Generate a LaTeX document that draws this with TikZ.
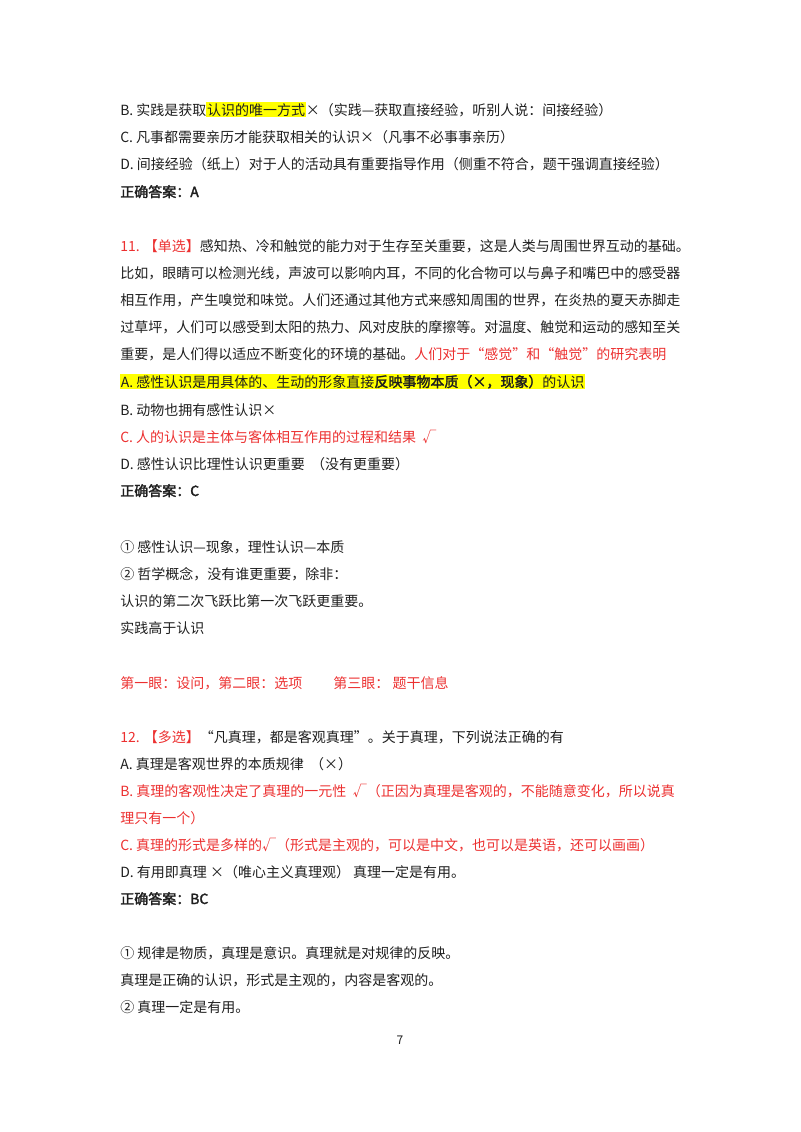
\documentclass[tikz,border=0pt]{standalone}
\usepackage{fontspec}
\setmainfont{Noto Sans CJK SC}[AutoFakeBold=2]
\definecolor{rd}{RGB}{236,48,48}
\definecolor{hly}{RGB}{255,255,0}
\definecolor{tx}{RGB}{30,30,30}
\newcommand\hlt[1]{{\setlength\fboxsep{0.5pt}\colorbox{hly}{#1}}}
\begin{document}
\begin{tikzpicture}[x=0.75pt,y=-0.75pt,
  ln/.style={anchor=base west,inner sep=0pt,font=\fontsize{10.5pt}{12pt}\selectfont,text=tx},
  red/.style={ln,text=rd}]
\useasboundingbox (0,0) rectangle (800,1132);
\node[ln] (l1) at (120,115) {B. 实践是获取\hlt{认识的唯一方式}×（实践—获取直接经验，听别人说：间接经验）};
\node[ln] (l2) at (120,142) {C. 凡事都需要亲历才能获取相关的认识×（凡事不必事事亲历）};
\node[ln] (l3) at (120,169) {D. 间接经验（纸上）对于人的活动具有重要指导作用（侧重不符合，题干强调直接经验）};
\node[ln] (l4) at (120,197) {\textbf{正确答案：A}};
\node[ln] (l5) at (120,251) {\textcolor{rd}{11. 【单选】}感知热、冷和触觉的能力对于生存至关重要，这是人类与周围世界互动的基础。};
\node[ln] (l6) at (120,278) {比如，眼睛可以检测光线，声波可以影响内耳，不同的化合物可以与鼻子和嘴巴中的感受器};
\node[ln] (l7) at (120,305) {相互作用，产生嗅觉和味觉。人们还通过其他方式来感知周围的世界，在炎热的夏天赤脚走};
\node[ln] (l8) at (120,332) {过草坪，人们可以感受到太阳的热力、风对皮肤的摩擦等。对温度、触觉和运动的感知至关};
\node[ln] (l9) at (120,359) {重要，是人们得以适应不断变化的环境的基础。\textcolor{rd}{人们对于“感觉”和“触觉”的研究表明}};
\node[ln] (l10) at (120,387) {\hlt{A. 感性认识是用具体的、生动的形象直接\textbf{反映事物本质（×，现象）}的认识}};
\node[ln] (l11) at (120,415) {B. 动物也拥有感性认识×};
\node[red] (l12) at (120,442) {C. 人的认识是主体与客体相互作用的过程和结果 \ √};
\node[ln] (l13) at (120,469) {D. 感性认识比理性认识更重要 \ （没有更重要）};
\node[ln] (l14) at (120,496) {\textbf{正确答案：C}};
\node[ln] (l15) at (120,552) {① 感性认识---现象，理性认识---本质};
\node[ln] (l16) at (120,579) {② 哲学概念，没有谁更重要，除非：};
\node[ln] (l17) at (120,606) {认识的第二次飞跃比第一次飞跃更重要。};
\node[ln] (l18) at (120,633) {实践高于认识};
\node[red] (l19) at (120,688) {第一眼：设问，第二眼：选项 \qquad 第三眼： 题干信息};
\node[ln] (l20) at (120,742) {\textcolor{rd}{12. 【多选】}“凡真理，都是客观真理”。关于真理，下列说法正确的有};
\node[ln] (l21) at (120,769) {A. 真理是客观世界的本质规律 \ （×）};
\node[red] (l22) at (120,796) {B. 真理的客观性决定了真理的一元性 \ √（正因为真理是客观的，不能随意变化，所以说真};
\node[red] (l23) at (120,823) {理只有一个）};
\node[red] (l24) at (120,850) {C. 真理的形式是多样的√（形式是主观的，可以是中文，也可以是英语，还可以画画）};
\node[ln] (l25) at (120,877) {D. 有用即真理 ×（唯心主义真理观） 真理一定是有用。};
\node[ln] (l26) at (120,904) {\textbf{正确答案：BC}};
\node[ln] (l27) at (120,958) {① 规律是物质，真理是意识。真理就是对规律的反映。};
\node[ln] (l28) at (120,985) {真理是正确的认识，形式是主观的，内容是客观的。};
\node[ln] (l29) at (120,1012) {② 真理一定是有用。};
\node[ln,anchor=base,font=\fontsize{9pt}{10pt}\selectfont] (pg) at (400,1044) {7};
\end{tikzpicture}
\end{document}
